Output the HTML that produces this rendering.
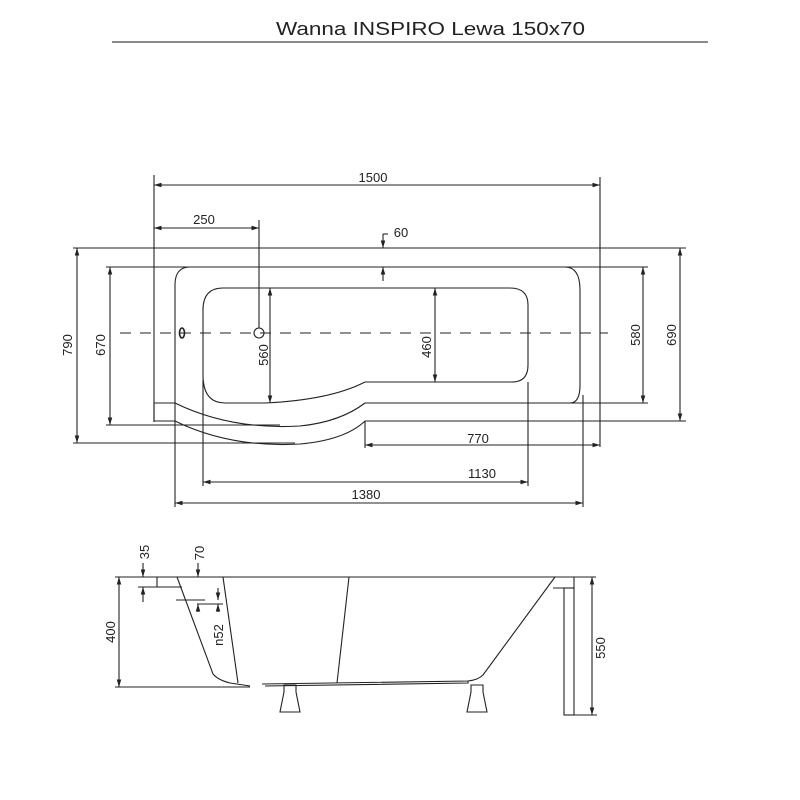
<!DOCTYPE html>
<html><head><style>body{margin:0;background:#fff}svg{display:block}text{font-family:"Liberation Sans",sans-serif;fill:#222}</style></head>
<body>
<svg width="800" height="800" viewBox="0 0 800 800" xmlns="http://www.w3.org/2000/svg">
<defs><marker id="a" viewBox="0 0 10 10" refX="10" refY="5" markerWidth="7" markerHeight="7" orient="auto-start-reverse"><path d="M0,2 L10,5 L0,8z" fill="#222"/></marker></defs>
<text x="276" y="35" font-size="18" textLength="309" lengthAdjust="spacingAndGlyphs">Wanna INSPIRO Lewa 150x70</text>
<line x1="112" y1="42" x2="708" y2="42" stroke="#444" stroke-width="1.2"/>
<g stroke="#222" stroke-width="1.1" fill="none">
<line x1="154" y1="175" x2="154" y2="422"/>
<line x1="600" y1="177" x2="600" y2="447"/>
<line x1="154" y1="185" x2="600" y2="185" marker-start="url(#a)" marker-end="url(#a)"/>
<line x1="154" y1="228" x2="259" y2="228" marker-start="url(#a)" marker-end="url(#a)"/>
<line x1="259" y1="220" x2="259" y2="328"/>
<line x1="73" y1="248" x2="686" y2="248"/>
<line x1="73" y1="443" x2="295" y2="443"/>
<line x1="77" y1="248" x2="77" y2="443" marker-start="url(#a)" marker-end="url(#a)"/>
<line x1="106" y1="267" x2="648" y2="267"/>
<line x1="106" y1="425" x2="280" y2="425"/>
<line x1="110" y1="267" x2="110" y2="425" marker-start="url(#a)" marker-end="url(#a)"/>
<line x1="680" y1="248" x2="680" y2="421" marker-start="url(#a)" marker-end="url(#a)"/>
<line x1="643" y1="267" x2="643" y2="403" marker-start="url(#a)" marker-end="url(#a)"/>
<line x1="365" y1="403" x2="648" y2="403"/>
<line x1="365" y1="421" x2="686" y2="421"/>
<path d="M175,403 L175,285 Q175,267 190,267 L565,267 Q580,267 580,290 L580,385 Q580,403 570,403"/>
<path d="M154,403 L175,403 L175,421 L154,421 Z"/>
<path d="M175,403 Q230,430 300,426 Q340,422 365,403"/>
<path d="M175,421 Q230,448 300,444 Q345,440 365,421"/>
<path d="M223,288 L510,288 Q528,288 528,305 L528,365 Q528,382 512,382 L365,382 Q330,400 265,403 L225,403 Q203,403 203,375 L203,310 Q203,288 223,288 Z"/>
<line x1="120" y1="333" x2="608" y2="333" stroke-dasharray="11,9"/>
<ellipse cx="182" cy="333" rx="2.5" ry="5" stroke-width="1.6"/>
<circle cx="259" cy="333" r="5"/>
<line x1="270" y1="288" x2="270" y2="403" marker-start="url(#a)" marker-end="url(#a)"/>
<line x1="435" y1="288" x2="435" y2="382" marker-start="url(#a)" marker-end="url(#a)"/>
<line x1="383" y1="234" x2="383" y2="248" marker-end="url(#a)"/>
<line x1="383" y1="234" x2="388" y2="234"/>
<line x1="383" y1="281" x2="383" y2="267" marker-end="url(#a)"/>
<line x1="365" y1="421" x2="365" y2="448"/>
<line x1="365" y1="445" x2="600" y2="445" marker-start="url(#a)" marker-end="url(#a)"/>
<line x1="203" y1="380" x2="203" y2="486"/>
<line x1="528" y1="382" x2="528" y2="486"/>
<line x1="203" y1="482" x2="528" y2="482" marker-start="url(#a)" marker-end="url(#a)"/>
<line x1="175" y1="421" x2="175" y2="507"/>
<line x1="583" y1="395" x2="583" y2="507"/>
<line x1="175" y1="503" x2="583" y2="503" marker-start="url(#a)" marker-end="url(#a)"/>
<line x1="115" y1="577" x2="596" y2="577"/>
<line x1="115" y1="687" x2="250" y2="687"/>
<line x1="119" y1="577" x2="119" y2="687" marker-start="url(#a)" marker-end="url(#a)"/>
<path d="M157,577 L157,587 L182,587"/>
<path d="M177,577 L213,674 Q218,680 230,683 L250,686"/>
<line x1="223" y1="577" x2="238" y2="683"/>
<line x1="349" y1="577" x2="337" y2="683"/>
<path d="M555,577 L483,675 Q478,680 468,681 L262,684"/>
<path d="M265,686 L468,683 L468,681"/>
<path d="M553,588 L574,588 L574,577"/>
<rect x="564" y="588" width="10" height="127"/>
<line x1="574" y1="715" x2="597" y2="715"/>
<line x1="592" y1="577" x2="592" y2="715" marker-start="url(#a)" marker-end="url(#a)"/>
<path d="M284,685 L296,685 L296,692 L300,712 L280,712 L284,692 Z"/>
<path d="M471,685 L483,685 L483,692 L487,712 L467,712 L471,692 Z"/>
<line x1="143" y1="563" x2="143" y2="577" marker-end="url(#a)"/>
<line x1="143" y1="602" x2="143" y2="587" marker-end="url(#a)"/>
<line x1="138" y1="587" x2="158" y2="587"/>
<line x1="198" y1="563" x2="198" y2="577" marker-end="url(#a)"/>
<line x1="176" y1="600" x2="205" y2="600"/>
<line x1="197" y1="604" x2="223" y2="604"/>
<line x1="198" y1="612" x2="198" y2="604" marker-end="url(#a)"/>
<line x1="218" y1="588" x2="218" y2="600" marker-end="url(#a)"/>
<line x1="218" y1="612" x2="218" y2="604" marker-end="url(#a)"/>
</g>
<g font-size="13">
<text x="373" y="182" text-anchor="middle">1500</text>
<text x="204" y="224" text-anchor="middle">250</text>
<text x="401" y="237" text-anchor="middle">60</text>
<text x="478" y="443" text-anchor="middle">770</text>
<text x="482" y="478" text-anchor="middle">1130</text>
<text x="366" y="499" text-anchor="middle">1380</text>
<text transform="translate(72,345) rotate(-90)" text-anchor="middle">790</text>
<text transform="translate(105,345) rotate(-90)" text-anchor="middle">670</text>
<text transform="translate(268,355) rotate(-90)" text-anchor="middle">560</text>
<text transform="translate(431,347) rotate(-90)" text-anchor="middle">460</text>
<text transform="translate(640,335) rotate(-90)" text-anchor="middle">580</text>
<text transform="translate(676,335) rotate(-90)" text-anchor="middle">690</text>
<text transform="translate(115,632) rotate(-90)" text-anchor="middle">400</text>
<text transform="translate(149,552) rotate(-90)" text-anchor="middle">35</text>
<text transform="translate(204,553) rotate(-90)" text-anchor="middle">70</text>
<text transform="translate(223,635) rotate(-90)" text-anchor="middle">n52</text>
<text transform="translate(605,648) rotate(-90)" text-anchor="middle">550</text>
</g>
</svg>
</body></html>
